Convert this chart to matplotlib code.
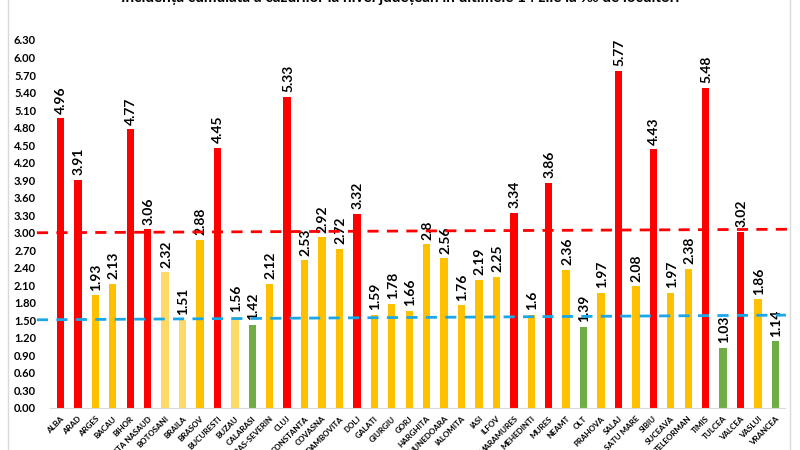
import matplotlib
matplotlib.use("Agg")
import matplotlib.pyplot as plt
from matplotlib.patches import Rectangle
from matplotlib.lines import Line2D

plt.rcParams['font.family'] = ['Lato', 'DejaVu Sans']

counties = ["ALBA", "ARAD", "ARGES", "BACAU", "BIHOR", "BISTRITA NASAUD", "BOTOSANI",
            "BRAILA", "BRASOV", "BUCURESTI", "BUZAU", "CALARASI", "CARAS-SEVERIN", "CLUJ",
            "CONSTANTA", "COVASNA", "DAMBOVITA", "DOLJ", "GALATI", "GIURGIU", "GORJ",
            "HARGHITA", "HUNEDOARA", "IALOMITA", "IASI", "ILFOV", "MARAMURES", "MEHEDINTI",
            "MURES", "NEAMT", "OLT", "PRAHOVA", "SALAJ", "SATU MARE", "SIBIU", "SUCEAVA",
            "TELEORMAN", "TIMIS", "TULCEA", "VALCEA", "VASLUI", "VRANCEA"]
values = [4.96, 3.91, 1.93, 2.13, 4.77, 3.06, 2.32, 1.51, 2.88, 4.45, 1.56, 1.42, 2.12,
          5.33, 2.53, 2.92, 2.72, 3.32, 1.59, 1.78, 1.66, 2.8, 2.56, 1.76, 2.19, 2.25,
          3.34, 1.6, 3.86, 2.36, 1.39, 1.97, 5.77, 2.08, 4.43, 1.97, 2.38, 5.48, 1.03,
          3.02, 1.86, 1.14]
value_labels = ["4.96", "3.91", "1.93", "2.13", "4.77", "3.06", "2.32", "1.51", "2.88",
                "4.45", "1.56", "1.42", "2.12", "5.33", "2.53", "2.92", "2.72", "3.32",
                "1.59", "1.78", "1.66", "2.8", "2.56", "1.76", "2.19", "2.25", "3.34",
                "1.6", "3.86", "2.36", "1.39", "1.97", "5.77", "2.08", "4.43", "1.97",
                "2.38", "5.48", "1.03", "3.02", "1.86", "1.14"]
light_group = ["BOTOSANI", "BRAILA", "BUZAU"]
yticks = [0.00, 0.30, 0.60, 0.90, 1.20, 1.50, 1.80, 2.10, 2.40, 2.70, 3.00, 3.30, 3.60,
          3.90, 4.20, 4.50, 4.80, 5.10, 5.40, 5.70, 6.00, 6.30]
red_line = [3.00, 3.06]
blue_line = [1.51, 1.59]
title = "Incidența cumulată a cazurilor la nivel județean în ultimele 14 zile la ‰ de locuitori"

RED, ORANGE, LIGHT, GREEN = "#FF0000", "#FFC000", "#FFD966", "#70AD47"
colors = []
for c, v in zip(counties, values):
    if c in light_group:
        colors.append(LIGHT)
    elif v >= 3.0:
        colors.append(RED)
    elif v < 1.5:
        colors.append(GREEN)
    else:
        colors.append(ORANGE)

fig = plt.figure(figsize=(8, 4.5), dpi=100)
fig.patches.append(Rectangle((8/800, -0.1), (790-8)/800, 1.2, transform=fig.transFigure,
                             fill=False, edgecolor="#D9D9D9", linewidth=1, zorder=0))
ax = fig.add_axes([50/800, 1-408/450, 735/800, (408-28.3)/450])
x = list(range(len(counties)))
ax.bar(x, values, width=0.42, color=colors, zorder=2)
for xi, v, lab in zip(x, values, value_labels):
    ax.text(xi + 0.05, v + 0.08, lab, rotation=90, ha='center', va='bottom',
            fontsize=10, fontweight='bold', color='black', zorder=3)

ax.set_xlim(-0.6, 41.55)
ax.set_ylim(0, 6.5)
ax.set_yticks(yticks)
ax.set_yticklabels([f"{t:.2f}" for t in yticks], fontsize=8, fontweight='bold')
ax.set_xticks(x)
ax.set_xticklabels(counties, rotation=45, ha='right', rotation_mode='anchor',
                   fontsize=5.8, fontweight='bold')
ax.tick_params(axis='both', length=0)
ax.tick_params(axis='y', pad=10)
ax.tick_params(axis='x', pad=5)
for s in ['top', 'right', 'left']:
    ax.spines[s].set_visible(False)
ax.spines['bottom'].set_color("#D9D9D9")

ax.add_line(Line2D([-1.35, 41.8], red_line, color=RED, linestyle=(0, (4, 3)),
                   linewidth=2, clip_on=False, zorder=4))
ax.add_line(Line2D([-1.35, 41.6], blue_line, color="#1AA7E8", linestyle=(0, (4, 3)),
                   linewidth=2, clip_on=False, zorder=4))

fig.text(0.5, 1.004, title, ha='center', va='center', fontsize=11, fontweight='bold')

fig.savefig("out.png", dpi=100)
